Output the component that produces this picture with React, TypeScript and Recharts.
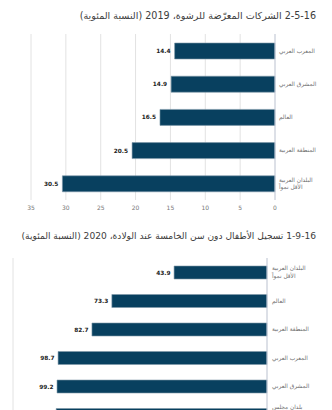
import React from 'react';
import { BarChart, Bar, XAxis, YAxis, CartesianGrid, LabelList } from 'recharts';

const chart1Title = '2-5-16  الشركات المعرّضة للرشوة، 2019 (النسبة المئوية)';
const chart1Categories = ['المغرب العربي', 'المشرق العربي', 'العالم', 'المنطقة العربية', 'البلدان العربية\nالأقل نمواً'];
const chart1Values = [14.4, 14.9, 16.5, 20.5, 30.5];
const chart1Ticks = [0, 5, 10, 15, 20, 25, 30, 35];

const chart2Title = '1-9-16  تسجيل الأطفال دون سن الخامسة عند الولادة، 2020 (النسبة المئوية)';
const chart2Categories = ['البلدان العربية\nالأقل نمواً', 'العالم', 'المنطقة العربية', 'المغرب العربي', 'المشرق العربي', 'بلدان مجلس\nالتعاون\nالخليجي'];
const chart2Values = [43.9, 73.3, 82.7, 98.7, 99.2, 99.6];
const chart2Ticks = [0, 20, 40, 60, 80, 100, 120];

const chart1Data = chart1Categories.map((c, i) => ({ category: c, value: chart1Values[i] }));
const chart2Data = chart2Categories.map((c, i) => ({ category: c, value: chart2Values[i] }));

const FONT = "'DejaVu Sans', 'Noto Sans', sans-serif";
const BAR = '#08405f';

const CategoryTick = (props: any) => {
  const { x, y, payload } = props;
  const lines = String(payload.value).split('\n');
  const lh = 7.8;
  return (
    <text x={x} y={y} textAnchor="start" fill="#707070" fontSize={5.8} fontFamily={FONT}>
      {lines.map((l, i) => (
        <tspan key={i} x={x} dy={i === 0 ? -((lines.length - 1) * lh) / 2 + 2 : lh}>
          {l}
        </tspan>
      ))}
    </text>
  );
};

const makeValueLabel = (gap: number) => (props: any) => {
  const { x, y, width, height, value } = props;
  const left = Math.min(Number(x), Number(x) + Number(width));
  return (
    <text
      x={left - gap}
      y={Number(y) + Number(height) / 2}
      dy="0.35em"
      textAnchor="end"
      fontSize={5.8}
      fontWeight="bold"
      fill="#222"
      fontFamily={FONT}
    >
      {Number(value).toFixed(1)}
    </text>
  );
};

const titleStyle: React.CSSProperties = {
  position: 'absolute',
  right: 16,
  whiteSpace: 'nowrap',
  fontFamily: FONT,
  lineHeight: '12px',
  color: '#3c3c3c',
  direction: 'rtl',
};

export default function App() {
  return (
    <div
      style={{
        position: 'absolute',
        left: 0,
        top: 0,
        width: 332,
        height: 410,
        overflow: 'hidden',
        background: '#fff',
      }}
    >
      <div style={{ ...titleStyle, top: 10, fontSize: 9.6 }} dir="rtl">
        {chart1Title}
      </div>
      <div style={{ position: 'absolute', left: 0, top: 0 }}>
        <BarChart
          width={332}
          height={222}
          data={chart1Data}
          layout="vertical"
          margin={{ top: 34, right: 0, left: 31, bottom: 0 }}
          barSize={16}
        >
          <CartesianGrid horizontal={false} stroke="#e2e2e2" />
          <XAxis
            type="number"
            domain={[0, 35]}
            ticks={chart1Ticks}
            reversed
            axisLine={false}
            tickLine={false}
            tickSize={0}
            tickMargin={6}
            height={22}
            tick={{ fontSize: 6, fill: '#777', fontFamily: FONT }}
            interval={0}
          />
          <YAxis
            type="category"
            dataKey="category"
            orientation="right"
            width={57}
            axisLine={{ stroke: '#c8cfdd' }}
            tickLine={false}
            tickSize={0}
            tickMargin={4}
            tick={<CategoryTick />}
            interval={0}
          />
          <Bar dataKey="value" fill={BAR} stroke="#7f98aa" strokeWidth={0.6} isAnimationActive={false}>
            <LabelList dataKey="value" content={makeValueLabel(4)} />
          </Bar>
        </BarChart>
      </div>

      <div style={{ ...titleStyle, top: 230, fontSize: 9.1 }} dir="rtl">
        {chart2Title}
      </div>
      <div style={{ position: 'absolute', left: 0, top: 245 }}>
        <BarChart
          width={332}
          height={214}
          data={chart2Data}
          layout="vertical"
          margin={{ top: 13, right: 0, left: 13, bottom: 0 }}
          barSize={13}
        >
          <CartesianGrid horizontal={false} stroke="#e2e2e2" />
          <XAxis
            type="number"
            domain={[0, 120]}
            ticks={chart2Ticks}
            reversed
            axisLine={false}
            tickLine={false}
            tick={false}
            height={30}
            interval={0}
          />
          <YAxis
            type="category"
            dataKey="category"
            orientation="right"
            width={65}
            axisLine={{ stroke: '#c8cfdd' }}
            tickLine={false}
            tickSize={0}
            tickMargin={5}
            tick={<CategoryTick />}
            interval={0}
          />
          <Bar dataKey="value" fill={BAR} stroke="#7f98aa" strokeWidth={0.6} isAnimationActive={false}>
            <LabelList dataKey="value" content={makeValueLabel(3.5)} />
          </Bar>
        </BarChart>
      </div>
    </div>
  );
}
